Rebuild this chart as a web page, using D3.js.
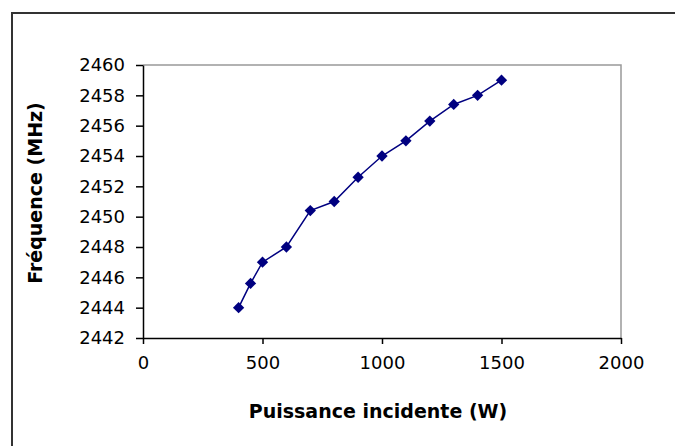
<!DOCTYPE html>
<html>
<head>
<meta charset="utf-8">
<script src="https://d3js.org/d3.v7.min.js"></script>
<style>
  body { margin: 0; background: #fff; }
  svg text { font-family: "DejaVu Sans", Arial, sans-serif; fill: #000; }
</style>
</head>
<body>
<svg id="chart" width="675" height="446"></svg>
<script>
// incident power (W) and measured frequency (MHz)
var puissance = [400, 450, 500, 600, 700, 800, 900, 1000, 1100, 1200, 1300, 1400, 1500]
var frequence = [2444.0, 2445.6, 2447.0, 2448.0, 2450.4, 2451.0, 2452.6, 2454.0, 2455.0, 2456.3, 2457.4, 2458.0, 2459.0]
var xTicks = [0, 500, 1000, 1500, 2000]
var yTicks = [2442, 2444, 2446, 2448, 2450, 2452, 2454, 2456, 2458, 2460]

var svg = d3.select("#chart")

// outer chart border (runs off the right and bottom edges)
svg.append("rect")
  .attr("x", 12).attr("y", 13)
  .attr("width", 700).attr("height", 460)
  .attr("fill", "none")
  .attr("stroke", "#333")
  .attr("stroke-width", 2)

// plot area box
var pLeft = 143, pRight = 621, pTop = 65, pBottom = 338

var x = d3.scaleLinear().domain([0, 2000]).range([pLeft, pRight])
var y = d3.scaleLinear().domain([2442, 2460]).range([pBottom, pTop])

// grey top and right edges of the plot area
svg.append("path")
  .attr("d", "M" + pLeft + "," + pTop + "H" + pRight + "V" + pBottom)
  .attr("fill", "none")
  .attr("stroke", "#999")
  .attr("stroke-width", 1.5)

var xAxis = svg.append("g")
  .attr("transform", "translate(0," + pBottom + ")")
  .call(d3.axisBottom(x).tickValues(xTicks).tickFormat(d3.format("d"))
    .tickSize(6).tickPadding(12).tickSizeOuter(0))
xAxis.select(".domain").attr("stroke", "#000").attr("stroke-width", 1.5)
xAxis.selectAll(".tick line").attr("stroke", "#000").attr("stroke-width", 1.5)
xAxis.selectAll("text").style("font-size", "18px")

var yAxis = svg.append("g")
  .attr("transform", "translate(" + pLeft + ",0)")
  .call(d3.axisLeft(y).tickValues(yTicks).tickFormat(d3.format("d"))
    .tickSize(7).tickPadding(11).tickSizeOuter(0))
yAxis.select(".domain").attr("stroke", "#000").attr("stroke-width", 1.5)
yAxis.selectAll(".tick line").attr("stroke", "#000").attr("stroke-width", 1.5)
yAxis.selectAll("text").style("font-size", "18px")

// series
var pts = puissance.map(function(p, i) { return [p, frequence[i]] })

svg.append("path")
  .datum(pts)
  .attr("fill", "none")
  .attr("stroke", "#000080")
  .attr("stroke-width", 1.5)
  .attr("d", d3.line()
    .x(function(d) { return x(d[0]) })
    .y(function(d) { return y(d[1]) }))

svg.selectAll(".pt")
  .data(pts)
  .enter().append("path")
  .attr("class", "pt")
  .attr("fill", "#000080")
  .attr("transform", function(d) { return "translate(" + x(d[0]) + "," + y(d[1]) + ") rotate(45)" })
  .attr("d", d3.symbol().type(d3.symbolSquare).size(64))

// axis titles
svg.append("text")
  .attr("x", 378).attr("y", 418)
  .attr("text-anchor", "middle")
  .style("font-size", "19px")
  .style("font-weight", "bold")
  .text("Puissance incidente (W)")

svg.append("text")
  .attr("transform", "translate(42,193) rotate(-90)")
  .attr("text-anchor", "middle")
  .style("font-size", "19px")
  .style("font-weight", "bold")
  .text("Fréquence (MHz)")
</script>
</body>
</html>
